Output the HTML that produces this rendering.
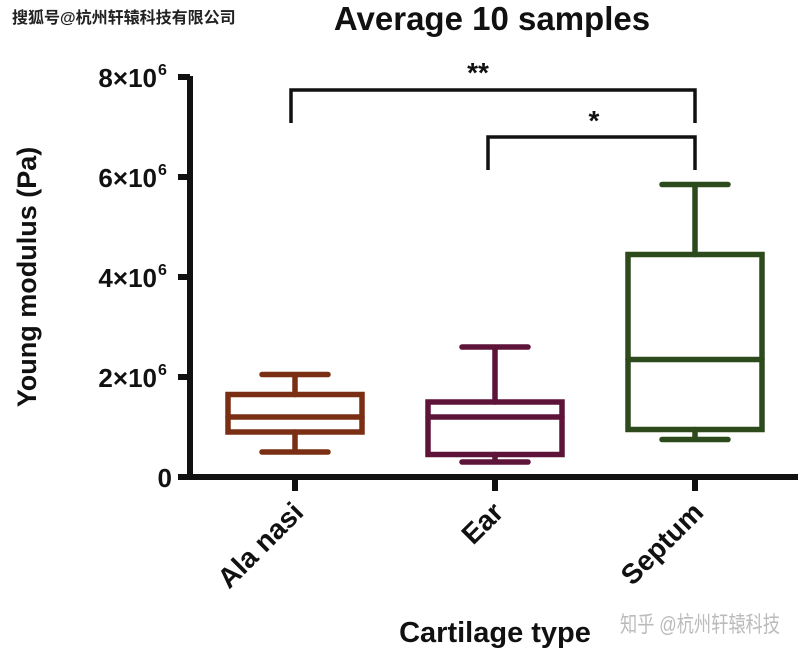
<!DOCTYPE html>
<html><head><meta charset="utf-8"><style>
body{margin:0;background:#fff;}
svg{display:block;font-family:"Liberation Sans","Noto Sans CJK SC",sans-serif;font-weight:bold;}
</style></head><body>
<svg id="c" width="800" height="656" viewBox="0 0 800 656">
<text x="12" y="23" font-size="16" fill="#222">搜狐号@杭州轩辕科技有限公司</text>
<text x="492" y="30" font-size="33" text-anchor="middle" fill="#111">Average 10 samples</text>
<text transform="translate(36,277) rotate(-90)" font-size="27" text-anchor="middle" fill="#111">Young modulus (Pa)</text>
<text x="495" y="642" font-size="29" text-anchor="middle" fill="#111">Cartilage type</text>
<text x="620" y="632" font-size="22" fill="#bbb" font-weight="normal" textLength="160" lengthAdjust="spacingAndGlyphs">知乎 @杭州轩辕科技</text>
<g id="axes"></g><g id="boxes"></g><g id="sig"></g>
</svg>
<script>
const categories=["Ala nasi","Ear","Septum"];
const mins=[0.5e6,0.3e6,0.75e6];
const q1s=[0.9e6,0.45e6,0.95e6];
const medians=[1.2e6,1.2e6,2.35e6];
const q3s=[1.65e6,1.5e6,4.45e6];
const maxs=[2.05e6,2.6e6,5.85e6];
const colors=["#7a2e14","#5e1438","#2c4a1c"];
const yTicks=[0,2e6,4e6,6e6,8e6];
const yTickLabels=["0","2×10","4×10","6×10","8×10"];
const NS="http://www.w3.org/2000/svg";
const y=v=>477-v/1e6*50;
const x=i=>295+i*200;
function mk(p,t,a){const e=document.createElementNS(NS,t);for(const k in a)e.setAttribute(k,a[k]);p.appendChild(e);return e;}
const ax=document.getElementById('axes');
let l=mk(ax,'path',{d:'M190 76 V479 M186 477 H798',stroke:'#111','stroke-width':6,fill:'none'});


yTicks.forEach((t,i)=>{
 const tk=mk(ax,'line',{x1:178,x2:190,y1:y(t),y2:y(t),stroke:'#111','stroke-width':6});
 
 
 const tx=mk(ax,'text',{x:i?157:172,y:y(t)+10,'font-size':26,'text-anchor':'end',fill:'#111'});
 
 
 tx.textContent=yTickLabels[i];
 if(i){const s=mk(ax,'text',{x:158,y:y(t)-2,'font-size':16,fill:'#111'});s.textContent='6';
 
 }
});
categories.forEach((c,i)=>{
 const tk=mk(ax,'line',{x1:x(i),x2:x(i),y1:477,y2:491,stroke:'#111','stroke-width':6});
 
 
 const tx=mk(ax,'text',{transform:`translate(${x(i)+10},${514}) rotate(-45)`,'font-size':28,'text-anchor':'end',fill:'#111'});
 
 
 tx.textContent=c;
 const g=mk(document.getElementById('boxes'),'g',{stroke:colors[i],'stroke-width':5.5,fill:'none','stroke-linecap':'round'});
 
 
 const cx=x(i);
 mk(g,'path',{d:`M${cx} ${y(maxs[i])} V${y(q3s[i])} M${cx} ${y(q1s[i])} V${y(mins[i])} M${cx-33} ${y(maxs[i])} H${cx+33} M${cx-33} ${y(mins[i])} H${cx+33} M${cx-67} ${y(medians[i])} H${cx+67}`});
 mk(g,'rect',{x:cx-67,y:y(q3s[i]),width:134,height:y(q1s[i])-y(q3s[i])});
});
const sig=document.getElementById('sig');
let b1=mk(sig,'path',{d:`M${x(0)-4} 123 V90 H${x(2)} V123`,stroke:'#111','stroke-width':3.5,fill:'none'});


let b2=mk(sig,'path',{d:`M${x(1)-7} 170 V137 H${x(2)} V170`,stroke:'#111','stroke-width':3.5,fill:'none'});


let s1=mk(sig,'text',{x:478,y:82,'font-size':28,'text-anchor':'middle',fill:'#111'});s1.textContent='**';


let s2=mk(sig,'text',{x:594,y:130,'font-size':28,'text-anchor':'middle',fill:'#111'});s2.textContent='*';


</script>
</body></html>
